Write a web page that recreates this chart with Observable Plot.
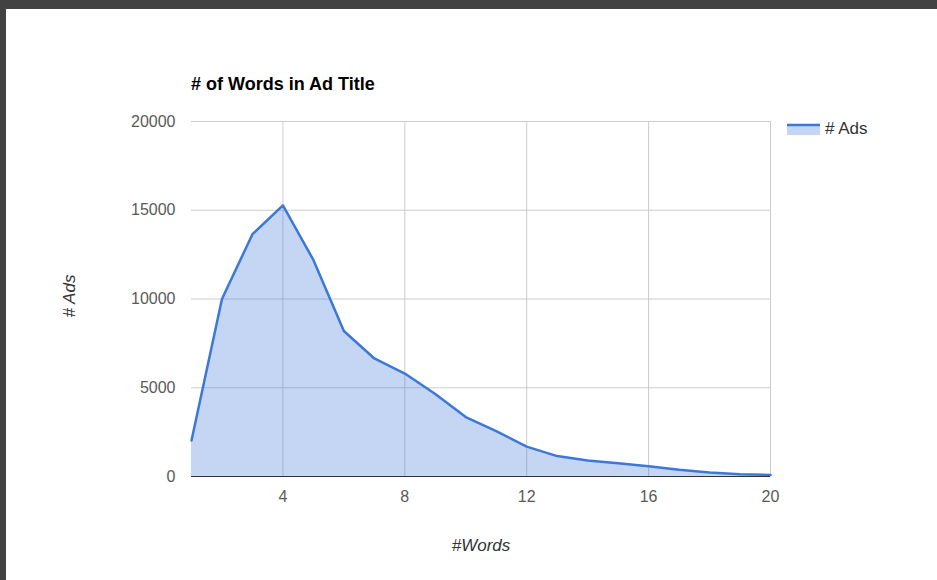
<!DOCTYPE html>
<html>
<head>
<meta charset="utf-8">
<script src="https://cdn.jsdelivr.net/npm/d3@7"></script>
<script src="https://cdn.jsdelivr.net/npm/@observablehq/plot@0.6"></script>
<style>
  html, body { margin: 0; padding: 0; background: #fff; width: 937px; height: 580px; overflow: hidden; font-family: "Liberation Sans", Arial, sans-serif; }
  #wrap { position: relative; width: 937px; height: 580px; }
  .band { position: absolute; background: #424242; }
  #chart { position: absolute; left: 0; top: 0; }
  .lbl { position: absolute; white-space: nowrap; }
</style>
</head>
<body>
<div id="wrap">
  <div id="chart"></div>
  <div class="band" style="left:0;top:0;width:937px;height:9px;"></div>
  <div class="band" style="left:0;top:0;width:6px;height:580px;"></div>
  <div class="lbl" id="title" style="left:191px;top:74px;font-size:18px;font-weight:bold;color:#000;"></div>
  <div class="lbl" id="ytitle" style="left:70px;top:296px;font-size:17px;font-style:italic;color:#333;transform:translate(-50%,-50%) rotate(-90deg);"></div>
  <div class="lbl" id="xtitle" style="left:481px;top:546px;font-size:17px;font-style:italic;color:#333;transform:translate(-50%,-50%);"></div>
  <div class="lbl" id="legend" style="left:787px;top:119px;font-size:17px;color:#333;display:flex;align-items:center;">
    <svg width="33" height="12" style="margin-right:5px;">
      <rect x="0" y="2" width="33" height="10" fill="#3c78d8" fill-opacity="0.3"></rect>
      <line x1="0" x2="33" y1="2" y2="2" stroke="#3c78d8" stroke-width="2.5"></line>
    </svg>
    <span id="legendText"></span>
  </div>
</div>
<script>
const titleText = "# of Words in Ad Title";
const xTitle = "#Words";
const yTitle = "# Ads";
const seriesName = "# Ads";

const words = [1, 2, 3, 4, 5, 6, 7, 8, 9, 10, 11, 12, 13, 14, 15, 16, 17, 18, 19, 20];
const ads = [2030, 10000, 13650, 15270, 12200, 8200, 6650, 5800, 4650, 3350, 2550, 1680, 1150, 900, 740, 580, 380, 220, 130, 90];

const xTicks = [4, 8, 12, 16, 20];
const yTicks = [0, 5000, 10000, 15000, 20000];

const data = words.map((w, i) => ({words: w, ads: ads[i]}));

document.getElementById("title").textContent = titleText;
document.getElementById("xtitle").textContent = xTitle;
document.getElementById("ytitle").textContent = yTitle;
document.getElementById("legendText").textContent = seriesName;

const color = "#3c78d8";

const chart = Plot.plot({
  width: 937,
  height: 580,
  marginLeft: 191,
  marginRight: 167,
  marginTop: 121,
  marginBottom: 104,
  style: {fontFamily: "'Liberation Sans', Arial, sans-serif", fontSize: "16px", color: "#555", background: "transparent"},
  x: {domain: [1, 20]},
  y: {domain: [0, 20000]},
  marks: [
    Plot.gridX(xTicks, {stroke: "#cccccc", strokeOpacity: 1}),
    Plot.gridY(yTicks.filter(d => d > 0), {stroke: "#cccccc", strokeOpacity: 1}),
    Plot.areaY(data, {x: "words", y: "ads", fill: color, fillOpacity: 0.3}),
    Plot.lineY(data, {x: "words", y: "ads", stroke: color, strokeWidth: 2.5}),
    Plot.ruleY([0], {stroke: "#333"}),
    Plot.axisX(xTicks, {tickSize: 0, tickPadding: 14, label: null, fill: "#5a5a5a", fontSize: 16}),
    Plot.axisY(yTicks, {tickSize: 0, tickPadding: 16, label: null, tickFormat: d => String(d), fill: "#5a5a5a", fontSize: 16})
  ]
});
document.getElementById("chart").appendChild(chart);
</script>
</body>
</html>
